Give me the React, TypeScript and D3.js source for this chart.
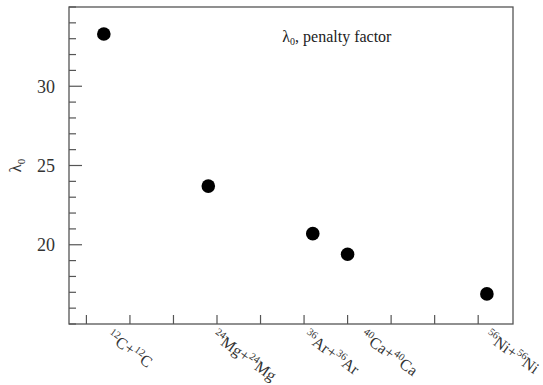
import React from "react";
import * as d3 from "d3";

const massNumbers = [12, 24, 36, 40, 56];
const elements = ["C", "Mg", "Ar", "Ca", "Ni"];
const lambda0 = [33.3, 23.7, 20.7, 19.4, 16.9];
const yMajorTicks = [20, 25, 30];
const yMinorTicks = d3.range(15, 36, 1);
const xTicks = d3.range(10, 60, 5);
// small horizontal nudges of the rotated labels (px), to avoid overlap
const labelNudge = [2, 3, -10, 12, -3];

const W = 543, H = 385;
const m = { left: 69, right: 30, top: 7, bottom: 61 };
const FONT = "'Liberation Serif', 'DejaVu Serif', serif";

export default function App() {
  const x = d3.scaleLinear().domain([8, 59]).range([m.left, W - m.right]);
  const y = d3.scaleLinear().domain([15, 35]).range([H - m.bottom, m.top]);
  const axisColor = "#555";
  const bottom = H - m.bottom;
  return (
    <svg width={W} height={H} style={{ position: "absolute", left: 0, top: 0, background: "#fff" }}>
      <rect x={m.left} y={m.top} width={W - m.left - m.right} height={bottom - m.top} fill="none" stroke={axisColor} strokeWidth={1.3} />
      {yMinorTicks.map((t) => (
        <line key={"mi" + t} x1={m.left} x2={m.left + (yMajorTicks.includes(t) ? 13 : 7)} y1={y(t)} y2={y(t)} stroke={axisColor} strokeWidth={1.2} />
      ))}
      {yMajorTicks.map((t) => (
        <text key={"yl" + t} x={m.left - 14} y={y(t)} dy="0.35em" textAnchor="end" fontSize={18} fill="#333" style={{ fontFamily: FONT }}>{t}</text>
      ))}
      {xTicks.map((t) => (
        <line key={"xt" + t} x1={x(t)} x2={x(t)} y1={bottom} y2={bottom - 9} stroke={axisColor} strokeWidth={1.2} />
      ))}
      {massNumbers.map((a, i) => (
        <circle key={"p" + i} cx={x(a)} cy={y(lambda0[i])} r={6.8} fill="#000" />
      ))}
      {massNumbers.map((a, i) => (
        <text key={"xl" + i} transform={`translate(${x(a) + labelNudge[i]},${bottom + 14}) rotate(36)`} fontSize={16} fill="#333" style={{ fontFamily: FONT }}>
          <tspan fontSize={10.5} dy="-6">{a}</tspan>
          <tspan dy="6">{elements[i]}+</tspan>
          <tspan fontSize={10.5} dy="-6">{a}</tspan>
          <tspan dy="6">{elements[i]}</tspan>
        </text>
      ))}
      <text transform={`translate(21,${y(25)}) rotate(-90)`} textAnchor="middle" fontSize={17} fill="#333" style={{ fontFamily: FONT }}>
        λ<tspan fontSize={11} dy="4">0</tspan>
      </text>
      <text x={x(32.5)} y={y(32.8)} fontSize={16} fill="#222" style={{ fontFamily: FONT }}>
        λ<tspan fontSize={10} dy="3">0</tspan><tspan dy="-3">, penalty factor</tspan>
      </text>
    </svg>
  );
}
